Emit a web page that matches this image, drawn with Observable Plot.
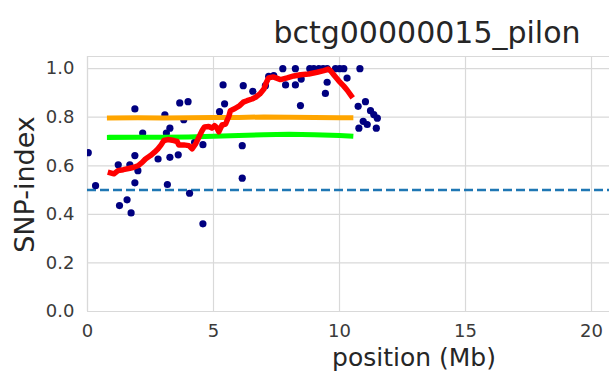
<!DOCTYPE html>
<html>
<head>
<meta charset="utf-8">
<script src="https://cdn.jsdelivr.net/npm/d3@7"></script>
<script src="https://cdn.jsdelivr.net/npm/@observablehq/plot@0.6"></script>
<style>
  html, body { margin: 0; padding: 0; background: white; overflow: hidden; }
  #chart { position: relative; width: 609px; height: 372px; }
</style>
</head>
<body>
<div id="chart"></div>
<script>
// ---- data ----
const titleText = "bctg00000015_pilon";
const xLabel = "position (Mb)";
const yLabel = "SNP-index";
const xTicks = [0, 5, 10, 15, 20];
const yTicks = [0, 0.2, 0.4, 0.6, 0.8, 1.0];
const threshold = 0.5;

// SNP positions (Mb) and SNP-index values
const snpX = [0.03, 0.32, 1.27, 1.57, 1.73, 1.22, 1.68, 1.88, 1.88, 1.88, 2.00, 2.19, 2.80, 3.07, 3.13, 3.17, 3.27, 3.27, 3.60, 3.66, 3.82, 3.99, 4.05, 4.25, 4.58, 4.58, 5.24, 5.38, 5.44, 6.14, 6.14, 6.18, 6.56, 7.06, 7.19, 7.39, 7.75, 7.86, 8.25, 8.25, 8.45, 8.48, 8.82, 8.98, 9.18, 9.35, 9.44, 9.51, 9.51, 9.84, 10.01, 10.17, 10.30, 10.74, 10.77, 10.81, 10.94, 11.03, 11.10, 11.23, 11.36, 11.46, 11.50];
const snpY = [0.654, 0.518, 0.436, 0.460, 0.406, 0.604, 0.604, 0.642, 0.530, 0.834, 0.580, 0.735, 0.628, 0.810, 0.735, 0.523, 0.755, 0.635, 0.645, 0.859, 0.790, 0.864, 0.487, 0.697, 0.687, 0.361, 0.823, 0.933, 0.855, 0.683, 0.549, 0.930, 0.907, 0.930, 0.968, 0.971, 1.000, 0.933, 1.000, 0.933, 0.848, 0.957, 1.000, 1.000, 1.000, 1.000, 0.898, 1.000, 0.944, 1.000, 1.000, 1.000, 0.961, 0.845, 0.755, 1.000, 0.783, 0.864, 0.770, 0.827, 0.811, 0.755, 0.796];

// 99% confidence line (orange)
const ci99X = [0.87, 2, 3, 4, 5, 6, 7, 8, 9, 10, 10.45];
const ci99Y = [0.797, 0.798, 0.797, 0.798, 0.799, 0.799, 0.801, 0.800, 0.799, 0.798, 0.798];
// 95% confidence line (green)
const ci95X = [0.87, 2, 3, 4, 5, 6, 7, 8, 9, 10, 10.45];
const ci95Y = [0.717, 0.718, 0.718, 0.719, 0.722, 0.725, 0.728, 0.730, 0.728, 0.725, 0.722];

// sliding window SNP-index (red)
const winX = [0.91, 1.05, 1.21, 1.42, 1.68, 1.84, 2.00, 2.17, 2.30, 2.50, 2.66, 2.79, 2.92, 3.03, 3.19, 3.43, 3.56, 3.62, 3.82, 4.02, 4.15, 4.29, 4.42, 4.55, 4.64, 4.81, 4.94, 5.04, 5.12, 5.21, 5.34, 5.48, 5.61, 5.67, 5.87, 6.04, 6.18, 6.33, 6.53, 6.67, 6.84, 7.00, 7.10, 7.19, 7.37, 7.66, 7.92, 8.19, 8.45, 8.78, 9.11, 9.38, 9.55, 9.64, 9.77, 9.97, 10.17, 10.30, 10.46];
const winY = [0.571, 0.567, 0.580, 0.584, 0.590, 0.594, 0.600, 0.614, 0.628, 0.642, 0.656, 0.669, 0.686, 0.704, 0.708, 0.704, 0.700, 0.686, 0.686, 0.683, 0.670, 0.690, 0.718, 0.745, 0.760, 0.762, 0.755, 0.765, 0.758, 0.740, 0.768, 0.772, 0.804, 0.827, 0.837, 0.848, 0.862, 0.868, 0.875, 0.882, 0.896, 0.916, 0.944, 0.962, 0.966, 0.955, 0.962, 0.970, 0.975, 0.978, 0.985, 0.992, 0.998, 0.992, 0.975, 0.950, 0.928, 0.912, 0.889];

// ---- build tables ----
const snps = snpX.map((x, i) => ({x, y: snpY[i]}));
const ci99 = ci99X.map((x, i) => ({x, y: ci99Y[i]}));
const ci95 = ci95X.map((x, i) => ({x, y: ci95Y[i]}));
const win = winX.map((x, i) => ({x, y: winY[i]}));

const gridColor = "#d9d9d9";
const textColor = "#3a3a3a";

const svg = Plot.plot({
  width: 609,
  height: 372,
  marginLeft: 87,
  marginRight: 0,
  marginTop: 56,
  marginBottom: 61,
  x: {domain: [0, 20.714]},
  y: {domain: [0, 1.05]},
  style: {fontFamily: "DejaVu Sans", fontSize: "18px", color: textColor, background: "white", overflow: "visible"},
  marks: [
    Plot.gridX({ticks: xTicks, stroke: gridColor, strokeOpacity: 1, strokeWidth: 1.2}),
    Plot.gridY({ticks: yTicks, stroke: gridColor, strokeOpacity: 1, strokeWidth: 1.2}),
    Plot.ruleX([0], {stroke: gridColor, strokeWidth: 1.2}),
    Plot.ruleY([0, 1.05], {stroke: gridColor, strokeWidth: 1.2}),
    Plot.ruleY([threshold], {stroke: "#1f77b4", strokeWidth: 2.5, strokeDasharray: "9,4"}),
    Plot.dot(snps, {x: "x", y: "y", r: 3.6, fill: "#000080", stroke: "none", clip: "frame"}),
    Plot.line(ci99, {x: "x", y: "y", stroke: "#ffa500", strokeWidth: 5, strokeLinecap: "square"}),
    Plot.line(ci95, {x: "x", y: "y", stroke: "#00ff00", strokeWidth: 5, strokeLinecap: "square"}),
    Plot.line(win, {x: "x", y: "y", stroke: "#ff0000", strokeWidth: 5.5, strokeLinecap: "square"}),
    Plot.axisX({ticks: xTicks, tickSize: 0, tickPadding: 13, label: null, fill: textColor}),
    Plot.axisY({ticks: yTicks, tickSize: 0, tickPadding: 13, tickFormat: d3.format(".1f"), label: null, fill: textColor})
  ]
});

const s = d3.select(svg);
s.append("text")
  .attr("x", 427).attr("y", 43)
  .attr("text-anchor", "middle")
  .attr("font-size", "30px")
  .attr("fill", "#262626")
  .text(titleText);
s.append("text")
  .attr("x", 414).attr("y", 366)
  .attr("text-anchor", "middle")
  .attr("font-size", "25px")
  .attr("fill", "#262626")
  .text(xLabel);
s.append("text")
  .attr("transform", "translate(34,184.5) rotate(-90)")
  .attr("text-anchor", "middle")
  .attr("font-size", "27px")
  .attr("fill", "#262626")
  .text(yLabel);

document.getElementById("chart").appendChild(svg);
</script>
</body>
</html>
